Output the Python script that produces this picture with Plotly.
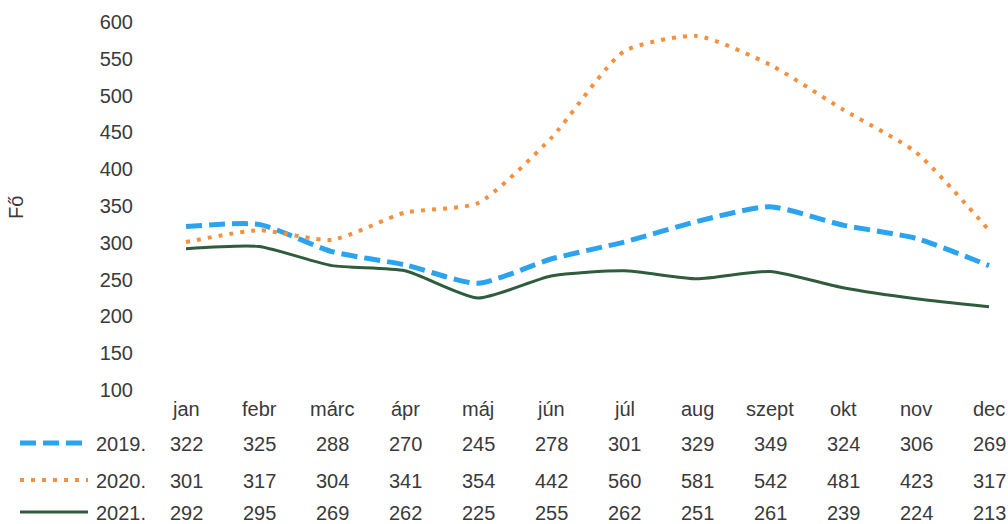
import plotly.graph_objects as go

months = ["jan", "febr", "márc", "ápr", "máj", "jún", "júl", "aug", "szept", "okt", "nov", "dec"]
series_names = ["2019.", "2020.", "2021."]
v2019 = [322, 325, 288, 270, 245, 278, 301, 329, 349, 324, 306, 269]
v2020 = [301, 317, 304, 341, 354, 442, 560, 581, 542, 481, 423, 317]
v2021 = [292, 295, 269, 262, 225, 255, 262, 251, 261, 239, 224, 213]
y_ticks = [100, 150, 200, 250, 300, 350, 400, 450, 500, 550, 600]

W, H = 1008, 524
L, T, B = 150, 22, 390  # plot area pixels
colors = ["#2CA3EE", "#F5903F", "#2E5C3C"]
dashes = ["16px,7px", "4px,7px", "solid"]
widths = [5, 4, 3]
FONT = "Liberation Sans"
TXT = "#3A3A3A"

def px_x(p):
    return (p - L) / (W - L)

def px_y(p):
    return (B - p) / (B - T)

xs = list(range(len(months)))
fig = go.Figure()
for name, vals, c, d, w in zip(series_names, [v2019, v2020, v2021], colors, dashes, widths):
    fig.add_trace(go.Scatter(x=xs, y=vals, mode="lines", name=name,
                             line=dict(color=c, dash=d, width=w, shape="spline", smoothing=0.6),
                             showlegend=False, cliponaxis=False, hoverinfo="skip"))

ann = []
for i, m in enumerate(months):
    ann.append(dict(x=i, y=px_y(409), xref="x", yref="paper", text=m, showarrow=False,
                    font=dict(size=20, color=TXT, family=FONT), xanchor="center", yanchor="middle"))
row_y = [444, 481, 513]
shapes = []
for name, vals, c, d, w, ry in zip(series_names, [v2019, v2020, v2021], colors, dashes, widths, row_y):
    for i, v in enumerate(vals):
        ann.append(dict(x=i, y=px_y(ry), xref="x", yref="paper", text=str(v), showarrow=False,
                        font=dict(size=20, color=TXT, family=FONT), xanchor="center", yanchor="middle"))
    ann.append(dict(x=px_x(94), y=px_y(ry), xref="paper", yref="paper", text=name, showarrow=False,
                    font=dict(size=20, color=TXT, family=FONT), xanchor="left", yanchor="middle"))
    shapes.append(dict(type="line", xref="paper", yref="paper", x0=px_x(20), x1=px_x(88),
                       y0=px_y(ry - 1), y1=px_y(ry - 1), line=dict(color=c, dash=d, width=w)))

ann.append(dict(x=px_x(16), y=px_y(208), xref="paper", yref="paper", text="Fő", showarrow=False,
                textangle=-90, font=dict(size=20, color=TXT, family=FONT),
                xanchor="center", yanchor="middle"))

step = (989 - 186) / 11
xmax = (1008 - 186) / step
fig.update_layout(
    width=W, height=H,
    margin=dict(l=L, r=0, t=T, b=H - B, pad=0),
    paper_bgcolor="white", plot_bgcolor="white",
    xaxis=dict(range=[-(186 - 150) / step, xmax], showgrid=False, zeroline=False, showline=False,
               showticklabels=False, ticks=""),
    yaxis=dict(range=[100, 600], tickvals=y_ticks, showgrid=False, zeroline=False, showline=False,
               ticks="", ticklabelstandoff=16,
               tickfont=dict(size=20, color=TXT, family=FONT)),
    annotations=ann, shapes=shapes,
)
fig.write_html("out.html", config={"displayModeBar": False},
               post_script="document.body.style.margin='0';document.documentElement.style.overflow='hidden';document.body.style.overflow='hidden';")
